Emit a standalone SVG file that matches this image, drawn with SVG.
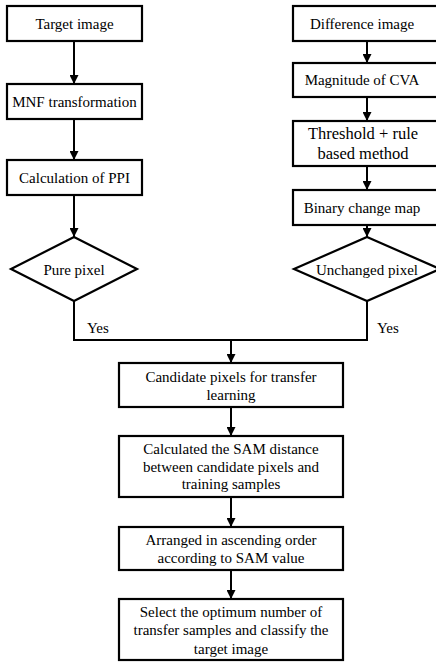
<svg xmlns="http://www.w3.org/2000/svg" width="436" height="662" viewBox="0 0 436 662">
<defs>
<marker id="ah" viewBox="0 0 10 10" refX="10" refY="5" markerWidth="4.5" markerHeight="4.5" orient="auto" markerUnits="strokeWidth">
<path d="M0,0 L10,5 L0,10 z" fill="#000"/>
</marker>
</defs>
<rect width="436" height="662" fill="#fff"/>
<g id="connectors" fill="none" stroke="#000" stroke-width="2">
<g marker-end="url(#ah)">
<line x1="74" y1="41" x2="74" y2="84"/>
<line x1="74" y1="119" x2="74" y2="160"/>
<line x1="74" y1="195" x2="74" y2="237"/>
<line x1="367" y1="41" x2="367" y2="63"/>
<line x1="367" y1="97" x2="367" y2="121"/>
<line x1="367" y1="166" x2="367" y2="190"/>
<line x1="367" y1="225" x2="367" y2="237"/>
<line x1="231" y1="340" x2="231" y2="363"/>
<line x1="231" y1="407" x2="231" y2="436"/>
<line x1="231" y1="497" x2="231" y2="527"/>
<line x1="231" y1="570" x2="231" y2="599"/>
</g>
<polyline points="74,301 74,340 367,340 367,301"/>
<g font-family="Liberation Serif" font-size="15" fill="#000" stroke="none">
<text x="87" y="333">Yes</text>
<text x="377" y="333">Yes</text>
</g>
</g>
<g id="nodes">
<g fill="#fff" stroke="#000" stroke-width="2.2">
<rect id="target-box" x="7" y="6" width="135" height="35"/>
<rect id="mnf-box" x="7" y="84" width="135" height="35"/>
<rect id="ppi-box" x="7" y="160" width="135" height="35"/>
<polygon id="pure-shape" points="74,237 137,269 74,301 11,269"/>
<rect id="difference-box" x="293" y="6" width="150" height="35"/>
<rect id="cva-box" x="293" y="63" width="150" height="34"/>
<rect id="threshold-box" x="293" y="121" width="150" height="45"/>
<rect id="binary-box" x="293" y="190" width="150" height="35"/>
<polygon id="unchanged-shape" points="367,237 440,269 367,301 294,269"/>
<rect id="candidate-box" x="119" y="363" width="224" height="44"/>
<rect id="sam-box" x="119" y="436" width="224" height="61"/>
<rect id="arranged-box" x="119" y="527" width="224" height="43"/>
<rect id="select-box" x="119" y="599" width="224" height="61"/>
</g>
<g font-family="Liberation Serif" font-size="15" text-anchor="middle" fill="#000">
<g id="target"><text x="74.5" y="28.5">Target image</text></g>
<g id="mnf"><text x="74.5" y="106.5">MNF transformation</text></g>
<g id="ppi"><text x="74.5" y="182.5">Calculation of PPI</text></g>
<g id="pure"><text x="74" y="274.5">Pure pixel</text></g>
<g id="difference"><text x="362" y="28.5">Difference image</text></g>
<g id="cva"><text x="362" y="85">Magnitude of CVA</text></g>
<g id="threshold" font-size="16.5"><text x="363" y="139">Threshold + rule</text><text x="363" y="159">based method</text></g>
<g id="binary"><text x="362" y="212.5">Binary change map</text></g>
<g id="unchanged"><text x="367" y="274.5">Unchanged pixel</text></g>
<g id="candidate"><text x="231" y="381.5">Candidate pixels for transfer</text><text x="231" y="399.5">learning</text></g>
<g id="sam"><text x="231" y="454">Calculated the SAM distance</text><text x="231" y="471.5">between candidate pixels and</text><text x="231" y="489">training samples</text></g>
<g id="arranged"><text x="231" y="545">Arranged in ascending order</text><text x="231" y="563">according to SAM value</text></g>
<g id="select"><text x="231" y="617">Select the optimum number of</text><text x="231" y="635">transfer samples and classify the</text><text x="231" y="653.5">target image</text></g>
</g>
</g>
</svg>
